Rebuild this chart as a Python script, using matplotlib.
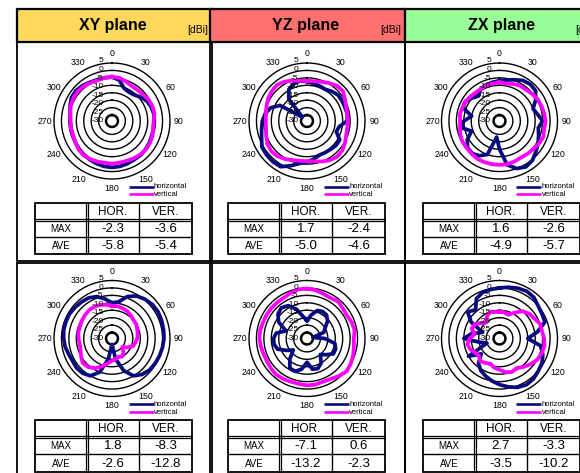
import numpy as np
import matplotlib
matplotlib.use("Agg")
import matplotlib.pyplot as plt
from matplotlib.patches import Rectangle
from matplotlib.lines import Line2D

W, H, DPI = 580, 473, 100

# ---------------------------------------------------------------- data
angles_deg = np.arange(0, 360, 10)

plane_names = ["XY plane", "YZ plane", "ZX plane"]
header_colors = ["#FFD75A", "#FF7070", "#98FF98"]

ring_values = [5, 0, -5, -10, -15, -20, -25, -30]
ring_labels = ["5", "0", "-5", "-10", "-15", "-20", "-25", "-30"]
angle_labels = [str(a) for a in range(0, 360, 30)]

# gain in dBi, every 10 degrees starting at 0 (clockwise from top)
xy_top_hor = [-4.5, -6, -10.5, -11.5, -11, -9, -7, -6, -5.5, -5.5, -5.5, -5.5,
              -5, -4.5, -4, -4, -3.5, -3, -2.8, -3, -3.5, -4, -4.5, -5,
              -5.5, -6, -6, -6, -5.5, -4, -2.5, -2.3, -3, -4, -4.5, -4.5]
xy_top_ver = [-4.2, -4.5, -6, -7, -7, -6.5, -5.5, -5, -5, -6, -6, -5,
              -4.5, -4.2, -4.5, -5, -5.5, -5.5, -5.3, -5.5, -5, -4.5, -4, -4.5,
              -5.5, -6, -6, -6, -5.5, -4.5, -3.8, -3.6, -3.8, -4.5, -5, -4.5]

yz_top_hor = [-7.5, -8.4, -9, -9.4, -8, -6.8, -6.8, -6.9, -6.5, -7, -12, -13,
              -8.6, -8.5, -9.2, -9.5, -9.6, -8, -6.5, -5, -2, 1.5, 1.7, 1.5,
              1.0, -1.5, -3, -4, -5.5, -8, -13, -30, -15, -9.5, -7.5, -6.6]
yz_top_ver = [-7, -6.8, -6, -4.5, -3, -2.5, -4.5, -6, -6.5, -6.5, -6.5, -6,
              -4.5, -3, -2.6, -3.5, -5, -6.5, -7, -6.8, -6, -4.5, -3, -2.6,
              -3.2, -4.8, -6, -6.3, -6, -5, -3.8, -3, -2.4, -3.5, -5, -6.5]

zx_top_hor = [-7, -6, -4.5, -2.5, -1.8, -2.3, -6, -10, -8, -5, -7.5, -6,
              -4, -2, 0.5, 1.6, 0, -4, -15, -23, -10, -7, -5.5, -6,
              -9, -14, -8, -10, -15, -8, -7.5, -10, -12, -9, -8, -7.5]
zx_top_ver = [-8, -8.5, -7.5, -6.5, -6.5, -5.5, -4.5, -4, -3.5, -3, -3.5, -2.6,
              -3.5, -4.5, -5, -5.5, -5, -4.5, -4.5, -4.5, -4.5, -4.5, -5, -5.5,
              -5.5, -6, -7, -7.5, -7, -7.5, -7.5, -8.5, -9, -9, -8.5, -8.5]

xy_bot_hor = [-10, -9, -4, -1, 0.5, 1.5, 1.8, 1.5, 1.2, 1.0, 0.5, 0,
              -0.5, -1, -2.5, -5, -11, -20, -30, -20, -10, -5, -3.5, -3,
              -3.5, -3, -2, -1.5, -1, -1, -1, -1.5, -2, -2.5, -4, -7]
xy_bot_ver = [-12, -12, -12.5, -13, -14, -15, -15, -16, -16.5, -17, -18, -19,
              -22, -25, -22, -20, -21, -20, -19, -17, -14, -11, -9, -8.3,
              -10, -11.5, -12, -11.5, -11, -11, -10.5, -10, -9.5, -9.5, -10, -11]

yz_bot_hor = [-22, -18, -14, -13, -13.5, -16, -20, -22, -30, -22, -15, -13.5,
              -13.5, -17, -20, -15, -12.5, -13, -18, -13, -10.5, -11, -16, -22,
              -18, -13, -11.5, -11.5, -13, -19, -12, -8.5, -7.1, -8.5, -13, -19]
yz_bot_ver = [-0.5, -1, -2, -2.5, -1.5, -2.5, -3, -2, -1.5, -2.5, -2, -1,
              0, 0.6, -1, -2.5, -3, -2.5, -2.5, -3, -3, -2.5, -2, -2.5,
              -3, -3, -2.5, -2, -2, -2.5, -2.5, -2.5, -2.5, -2.5, -1.5, -0.5]

zx_bot_hor = [0, 1, 2, 2.7, 2, 0, -1, -1.5, -8, -15, -6, -3,
              -1, 0, 1.5, 2, 1, -1, -3, -5, -7, -9, -12, -18,
              -10, -25, -20, -10, -15, -22, -12, -6, -9, -3, -1, -0.5]
zx_bot_ver = [-16, -16, -17, -14, -10, -8, -7, -5, -5, -4, -3.3, -4,
              -5, -7, -9, -11, -10, -11, -13, -14, -16, -15, -14, -16,
              -15, -13, -12, -14, -17, -14, -15, -18, -20, -17, -15, -16]

hor_series = [[xy_top_hor, yz_top_hor, zx_top_hor],
              [xy_bot_hor, yz_bot_hor, zx_bot_hor]]
ver_series = [[xy_top_ver, yz_top_ver, zx_top_ver],
              [xy_bot_ver, yz_bot_ver, zx_bot_ver]]

# summary tables
max_hor = [[-2.3, 1.7, 1.6], [1.8, -7.1, 2.7]]
max_ver = [[-3.6, -2.4, -2.6], [-8.3, 0.6, -3.3]]
ave_hor = [[-5.8, -5.0, -4.9], [-2.6, -13.2, -3.5]]
ave_ver = [[-5.4, -4.6, -5.7], [-12.8, -2.3, -10.2]]

NAVY = "#0A0A80"
MAGENTA = "#FF00FF"
R_MIN, R_MAX = -34, 5

# ---------------------------------------------------------------- layout
plt.rcParams["font.family"] = ["Liberation Sans", "DejaVu Sans"]
fig = plt.figure(figsize=(W / DPI, H / DPI), dpi=DPI)
fig.patch.set_facecolor("white")


def rect(x, y, w, h, **kw):
    fig.add_artist(Rectangle((x / W, 1 - (y + h) / H), w / W, h / H,
                             transform=fig.transFigure, **kw))


def line(xs, ys, lw=1.0, color="black"):
    fig.add_artist(Line2D([x / W for x in xs], [1 - y / H for y in ys],
                          transform=fig.transFigure, lw=lw, color=color,
                          solid_capstyle="butt"))


def text(x, y, s, **kw):
    fig.text(x / W, 1 - y / H, s, **kw)


col_x = [17, 210, 405]
col_w = 195
col_cx = [112, 307, 499.5]
row_top = [42, 263]
row_h = [219, 220]
row_cy = [121, 338.5]
R = 58

# headers
for c in range(3):
    rect(col_x[c], 9, col_w, 33, facecolor=header_colors[c],
         edgecolor="black", lw=1.6)
    text(col_x[c] + 96, 25.5, plane_names[c], fontsize=11.5,
         fontweight="bold", ha="center", va="center")
    text(col_x[c] + 191, 30, "[dBi]", fontsize=7.5, ha="right",
         va="center")

# panel frames
for r in range(2):
    for c in range(3):
        rect(col_x[c], row_top[r], col_w, row_h[r], fill=False,
             edgecolor="black", lw=1.3)


def draw_table(x0, y0, r, c):
    cw = [52, 52, 53]
    rh = [17, 17.4, 17.3]
    tw, th = sum(cw), sum(rh)
    rect(x0, y0, tw, th, fill=False, edgecolor="black", lw=1.3)
    xa = x0 + cw[0]
    line([xa - 1, xa - 1], [y0, y0 + th], lw=0.9)
    line([xa + 1.2, xa + 1.2], [y0, y0 + th], lw=0.9)
    xb = xa + cw[1]
    line([xb, xb], [y0, y0 + th], lw=1.0)
    ya = y0 + rh[0]
    line([x0, x0 + tw], [ya - 0.8, ya - 0.8], lw=0.9)
    line([x0, x0 + tw], [ya + 1.0, ya + 1.0], lw=0.9)
    yb = ya + rh[1]
    line([x0, x0 + tw], [yb, yb], lw=1.0)
    narrow = ["Liberation Sans Narrow", "Liberation Sans"]
    text((xa + xb) / 2, y0 + rh[0] / 2 + 0.5, "HOR.", fontsize=8.5,
         ha="center", va="center")
    text((xb + x0 + tw) / 2, y0 + rh[0] / 2 + 0.5, "VER.", fontsize=8.5,
         ha="center", va="center")
    text(x0 + cw[0] / 2, ya + rh[1] / 2 + 0.5, "MAX", fontsize=7,
         ha="center", va="center", family=narrow)
    text(x0 + cw[0] / 2, yb + rh[2] / 2 + 0.5, "AVE", fontsize=7,
         ha="center", va="center", family=narrow)
    for yy, hv, vv in [(ya + rh[1] / 2 + 0.5, max_hor[r][c], max_ver[r][c]),
                       (yb + rh[2] / 2 + 0.5, ave_hor[r][c], ave_ver[r][c])]:
        text((xa + xb) / 2, yy, f"{hv:.1f}", fontsize=9.5, ha="center",
             va="center")
        text((xb + x0 + tw) / 2, yy, f"{vv:.1f}", fontsize=9.5,
             ha="center", va="center")


theta_ring = np.linspace(0, 2 * np.pi, 361)
theta_data = np.deg2rad(np.append(angles_deg, 360))

for r in range(2):
    for c in range(3):
        cx, cy = col_cx[c], row_cy[r]
        ax = fig.add_axes([(cx - R) / W, 1 - (cy + R) / H, 2 * R / W,
                           2 * R / H], projection="polar")
        ax.set_theta_zero_location("N")
        ax.set_theta_direction(-1)
        ax.set_ylim(R_MIN, R_MAX)
        ax.set_axis_off()
        for v in ring_values:
            ax.plot(theta_ring, np.full_like(theta_ring, v), color="black",
                    lw=1.8 if v == -30 else 1.0, clip_on=False)
        hv = np.asarray(hor_series[r][c], dtype=float)
        vv = np.asarray(ver_series[r][c], dtype=float)
        ax.plot(theta_data, np.append(hv, hv[0]), color=NAVY, lw=2.7,
                clip_on=False, solid_joinstyle="round")
        ax.plot(theta_data, np.append(vv, vv[0]), color=MAGENTA, lw=2.7,
                clip_on=False, solid_joinstyle="round")

        # angle labels
        for a, lab in zip(range(0, 360, 30), angle_labels):
            t = np.deg2rad(a)
            text(cx + 67 * np.sin(t), cy - 67 * np.cos(t), lab,
                 fontsize=6.3, ha="center", va="center")
        # ring value labels
        for k, lab in enumerate(ring_labels):
            text(cx - 8.5, cy - (60 - 8.57 * k), lab, fontsize=6.0,
                 ha="right", va="center")

        # legend
        line([cx + 16.5, cx + 41.5], [cy + 65.5, cy + 65.5], lw=1.9,
             color=NAVY)
        line([cx + 16.5, cx + 41.5], [cy + 73.5, cy + 73.5], lw=1.9,
             color=MAGENTA)
        text(cx + 42, cy + 65.5, "horizontal", fontsize=5.5, va="center")
        text(cx + 42, cy + 73.5, "vertical", fontsize=5.5, va="center")

        draw_table(col_x[c] + 18, cy + 81.5, r, c)

fig.savefig("out.png", dpi=DPI, facecolor="white")
